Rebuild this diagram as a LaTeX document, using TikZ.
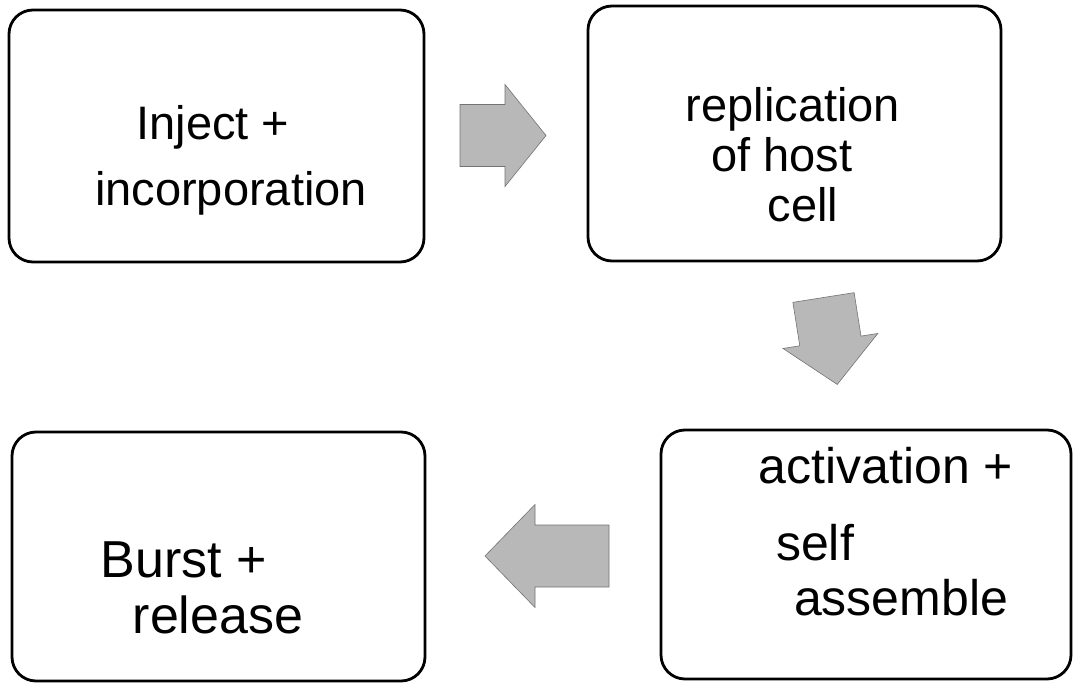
\documentclass[tikz,border=0pt]{standalone}
\usepackage{fontspec}
\setsansfont{Liberation Sans}
\usepackage{tikz}

% grey block arrow: position, angle, length, neck, head half-width
\newcommand{\flowarrow}[5]{%
  \begin{scope}[shift={#1}, rotate=#2]
    \fill[arrowfill] (0,-31) -- (#4,-31) -- (#4,-#5) -- (#3,0)
      -- (#4,#5) -- (#4,31) -- (0,31) -- cycle;
  \end{scope}}

\begin{document}
\begin{tikzpicture}[x=1pt, y=-1pt,
  stage/.style={draw, line width=2.8pt, rounded corners=24pt, inner sep=0pt},
  hand/.style={anchor=base, inner sep=0pt},
  arrowfill/.style={fill=black!28, draw=black!55, line width=0.6pt}]
  \sffamily

  \useasboundingbox (0,0) rectangle (1073,684);

  % =======================================================
  % 1. Inject + incorporation
  % =======================================================
  \node[stage, minimum width=415, minimum height=252] (inject) at (216.5,136) {};
  \begin{scope}[font=\fontsize{47}{56}\selectfont]
    \node[hand] (injectA) at (213,140) {Inject +};
    \node[hand] (injectB) at (231,206) {incorporation};
  \end{scope}

  % =======================================================
  % 2. Replication of host cell
  % =======================================================
  \node[stage, minimum width=413, minimum height=255] (replicate) at (794.5,133.5) {};
  \begin{scope}[font=\fontsize{47}{56}\selectfont]
    \node[hand] (replicateA) at (793,122) {replication};
    \node[hand] (replicateB) at (782,172) {of host};
    \node[hand] (replicateC) at (803,222) {cell};
  \end{scope}

  % =======================================================
  % 3. Activation + self assemble
  % =======================================================
  \node[stage, minimum width=410, minimum height=249] (activate) at (866,554.5) {};
  \begin{scope}[font=\fontsize{50}{60}\selectfont]
    \node[hand] (activateA) at (886,483) {activation +};
    \node[hand] (activateB) at (815,560) {self};
    \node[hand] (activateC) at (901,615) {assemble};
  \end{scope}

  % =======================================================
  % 4. Burst + release
  % =======================================================
  \node[stage, minimum width=413, minimum height=249] (burst) at (218.5,556.5) {};
  \begin{scope}[font=\fontsize{52}{60}\selectfont]
    \node[hand] (burstA) at (184,577) {Burst +};
    \node[hand] (burstB) at (218,633) {release};
  \end{scope}

  % =======================================================
  % Block arrows between the stages
  % =======================================================
  \flowarrow{(460,135.5)}{0}{86}{45}{51}
  \flowarrow{(823.5,297.5)}{-81}{88}{44}{48}
  \flowarrow{(609,556)}{180}{124}{74}{51.5}

\end{tikzpicture}
\end{document}
